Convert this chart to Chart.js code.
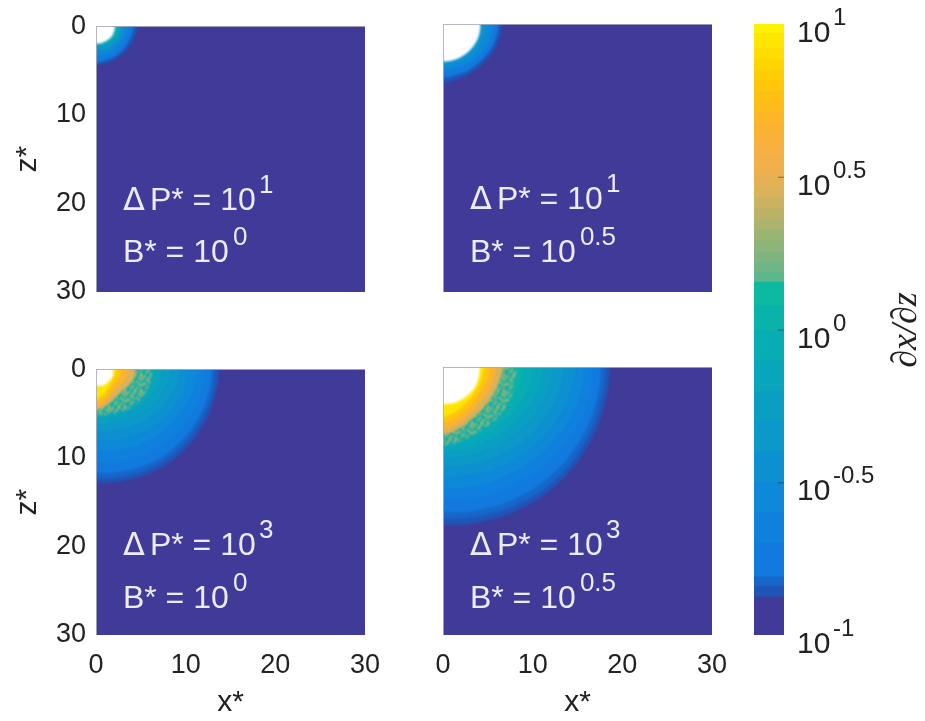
<!DOCTYPE html>
<html>
<head>
<meta charset="utf-8">
<script src="https://cdn.jsdelivr.net/npm/chart.js@4"></script>
<style>
    body { margin: 0; background: #fff; }
    canvas { position: absolute; }
</style>
</head>
<body>
<canvas id="panelA" width="400" height="340" style="left:0;top:0"></canvas>
<canvas id="panelB" width="400" height="340" style="left:347px;top:0"></canvas>
<canvas id="panelC" width="400" height="378" style="left:0;top:343px"></canvas>
<canvas id="panelD" width="400" height="378" style="left:347px;top:343px"></canvas>
<canvas id="colorbar" width="225" height="721" style="left:700px;top:0"></canvas>
<script>
// Axis ticks
const axisTicks = [0, 10, 20, 30];
const colorbarTickExps = [-1, -0.5, 0, 0.5, 1];
const colorbarTickSups = ['-1', '-0.5', '0', '0.5', '1'];

// Colour bands of the colorbar, lower edge of each band as exponent of 10
const bandEdges = [-1, -0.875, -0.84, -0.81, -0.7, -0.6, -0.5, -0.4, -0.3, -0.2, -0.1, 0, 0.08,
    0.155, 0.19, 0.22, 0.255, 0.29, 0.325, 0.36, 0.395, 0.43, 0.465, 0.5, 0.535, 0.57, 0.605, 0.64,
    0.675, 0.71, 0.745, 0.78, 0.815, 0.85, 0.885, 0.92, 0.97];
const bandColors = ['#403a98', '#1f55b7', '#1766c9', '#127adf', '#0f80dd', '#0e88d8', '#0d90d0', '#0c98c8',
    '#0a9fc2', '#08a6bb', '#08adb3', '#0ab3aa', '#0eb9a2',
    '#5db68c', '#6eb686', '#7eb57f', '#8cb579', '#9ab474', '#abb36d', '#bbb266', '#cab260', '#d9b25a',
    '#e4b154', '#eeb04e', '#f2b048', '#f6b043', '#f9b13a', '#fbb231', '#fcb626', '#fdbb1c', '#fec013',
    '#ffc60a', '#ffcd05', '#ffd500', '#ffdd00', '#ffe600', '#fff200'];

// Contour radii in x* units, read along these directions (degrees from the x* axis towards z*)
const contourAngles = [0, 15, 30, 45, 60, 75, 90];

const panelALevels = [-0.875, -0.81, -0.6, -0.4, -0.1];
const panelARadii = [
    [4.6, 4.5, 4.4, 4.3, 4.3, 4.3, 4.4],
    [4.2, 4.1, 4.0, 4.0, 4.0, 4.0, 4.1],
    [3.6, 3.5, 3.4, 3.4, 3.4, 3.4, 3.4],
    [3.1, 3.0, 3.0, 2.9, 2.9, 2.8, 2.7],
    [2.7, 2.6, 2.55, 2.4, 2.3, 2.2, 2.1]
];
const panelAHole = [2.1, 2.1, 2.1, 2.05, 2.0, 2.0, 1.95];

const panelBLevels = [-0.875, -0.81, -0.6, -0.5];
const panelBRadii = [
    [6.6, 6.5, 6.4, 6.3, 6.3, 6.4, 6.6],
    [6.2, 6.1, 6.0, 5.9, 5.9, 5.9, 6.0],
    [5.6, 5.5, 5.4, 5.3, 5.2, 5.1, 5.2],
    [5.0, 4.9, 4.8, 4.8, 4.7, 4.6, 4.6]
];
const panelBHole = [4.15, 4.2, 4.2, 4.2, 4.2, 4.2, 4.2];

const panelCLevels = [-0.875, -0.84, -0.81, -0.7, -0.6, -0.5, -0.4, -0.3, -0.2, -0.1, 0, 0.43, 0.64, 0.78, 0.92];
const panelCRadii = [
    [13.7, 13.6, 13.5, 13.4, 13.2, 13.0, 12.8],
    [13.3, 13.2, 13.0, 12.9, 12.7, 12.5, 12.3],
    [12.9, 12.8, 12.6, 12.4, 12.2, 11.9, 11.7],
    [12.2, 12.0, 11.7, 11.4, 11.1, 10.8, 10.5],
    [11.3, 11.0, 10.6, 10.2, 9.8, 9.5, 9.2],
    [10.3, 10.0, 9.6, 9.1, 8.6, 8.3, 8.0],
    [9.3, 9.0, 8.5, 8.0, 7.5, 7.1, 6.9],
    [8.3, 8.0, 7.5, 7.0, 6.5, 6.3, 6.1],
    [7.3, 7.0, 6.6, 6.2, 5.8, 5.6, 5.5],
    [6.4, 6.2, 5.9, 5.6, 5.3, 5.2, 5.1],
    [5.7, 5.5, 5.3, 5.1, 4.9, 4.9, 4.9],
    [4.4, 4.3, 4.0, 3.8, 3.9, 4.3, 4.6],
    [3.6, 3.5, 3.3, 3.2, 3.4, 3.9, 4.3],
    [2.9, 2.8, 2.7, 2.7, 3.0, 3.4, 3.7],
    [2.3, 2.2, 2.2, 2.3, 2.6, 3.0, 3.3]
];
const panelCHole = [1.9, 2.0, 2.0, 2.0, 2.0, 1.95, 1.85];
const panelCSpeckle = [6.2, 6.2, 6.1, 5.9, 5.5, 5.3, 5.3];

const panelDLevels = [-0.875, -0.84, -0.81, -0.7, -0.6, -0.5, -0.4, -0.3, -0.2, -0.1, 0, 0.43, 0.64, 0.78, 0.92];
const panelDRadii = [
    [18.6, 18.5, 18.4, 18.3, 18.1, 17.9, 17.7],
    [18.1, 18.0, 17.9, 17.8, 17.5, 17.2, 17.0],
    [17.6, 17.5, 17.3, 17.1, 16.8, 16.5, 16.2],
    [16.8, 16.6, 16.2, 15.8, 15.4, 15.1, 14.8],
    [15.8, 15.5, 15.0, 14.5, 14.1, 13.8, 13.6],
    [14.7, 14.3, 13.8, 13.3, 12.9, 12.5, 12.3],
    [13.5, 13.1, 12.6, 12.1, 11.6, 11.3, 11.1],
    [12.3, 11.9, 11.4, 10.9, 10.5, 10.3, 10.2],
    [11.1, 10.8, 10.3, 9.9, 9.6, 9.5, 9.4],
    [10.0, 9.7, 9.3, 9.0, 8.8, 8.8, 8.8],
    [8.9, 8.7, 8.4, 8.2, 8.1, 8.2, 8.4],
    [6.7, 6.5, 6.4, 6.4, 6.6, 7.1, 7.6],
    [5.9, 5.8, 5.7, 5.7, 6.0, 6.5, 7.0],
    [5.2, 5.1, 5.0, 5.1, 5.4, 5.8, 6.3],
    [4.6, 4.5, 4.5, 4.6, 4.8, 5.2, 5.6]
];
const panelDHole = [4.1, 4.15, 4.2, 4.2, 4.2, 4.2, 4.15];
const panelDSpeckle = [8.2, 8.2, 8.3, 8.3, 8.2, 8.4, 8.8];

// Mottled fill for the orange-to-teal transition
const speckleRows = ['10010010', '00100101', '01000010', '00101000', '10000101', '00100010', '01001000', '00010010'];

const FONT = '"Liberation Sans", Arial, sans-serif';
const TEXT_COLOR = '#222222';

function bandColor(level) {
    return bandColors[bandEdges.indexOf(level)];
}

function specklePattern() {
    const c = document.createElement('canvas');
    c.width = 16;
    c.height = 16;
    const g = c.getContext('2d');
    g.fillStyle = '#dbb25c';
    speckleRows.forEach((row, y) => {
        row.split('').forEach((on, x) => {
            if (on === '1') g.fillRect(x * 2, y * 2, 2, 2);
        });
    });
    return g.createPattern(c, 'repeat');
}

// Closed shape: the arc of radii, carried past both axes and round a corner outside the plot.
// The chart area clips the part outside.
function contourDataset(radii, color) {
    const points = [{ x: -5, y: -5 }];
    const last = radii.length - 1;
    const step = contourAngles[1] - contourAngles[0];
    const pushPoint = (r, deg) => {
        const a = deg * Math.PI / 180;
        points.push({ x: r * Math.cos(a), y: r * Math.sin(a) });
    };
    pushPoint(radii[0], contourAngles[0] - step);
    radii.forEach((r, i) => pushPoint(r, contourAngles[i]));
    pushPoint(radii[last], contourAngles[last] + step);
    return {
        data: points,
        showLine: true,
        fill: 'shape',
        tension: 0.4,
        backgroundColor: color,
        borderColor: 'rgba(0,0,0,0)',
        borderWidth: 0,
        pointRadius: 0
    };
}

// Plot background (everything under the lowest band), soft edges for the contours, white text labels
const panelPlugin = {
    id: 'panelPlugin',
    beforeDatasetsDraw(chart) {
        const { ctx, chartArea: a } = chart;
        ctx.fillStyle = bandColors[0];
        ctx.fillRect(a.left, a.top, a.right - a.left, a.bottom - a.top);
        ctx.filter = 'blur(1.3px)';
    },
    afterDatasetsDraw(chart) {
        chart.ctx.filter = 'none';
    },
    afterDraw(chart, args, opts) {
        const { ctx, scales } = chart;
        const x = scales.x.getPixelForValue(3);
        const y1 = scales.y.getPixelForValue(opts.z1);
        const y2 = scales.y.getPixelForValue(opts.z2);
        ctx.save();
        ctx.fillStyle = '#ecebf5';
        ctx.textBaseline = 'alphabetic';
        ctx.textAlign = 'left';
        ctx.font = `32px "DejaVu Sans"`;
        ctx.fillText('\u0394', x, y1);
        ctx.font = `32px ${FONT}`;
        ctx.fillText('P* = 10', x + 27, y1);
        ctx.fillText('B* = 10', x, y2);
        ctx.font = `26px ${FONT}`;
        ctx.fillText(opts.dpSup, x + 136, y1 - 17);
        ctx.fillText(opts.bSup, x + 110, y2 - 17);
        ctx.restore();
    }
};

function edgeGrid(context) {
    return context.tick && context.tick.value === 0 ? 'rgba(170,170,185,0.85)' : 'rgba(0,0,0,0)';
}

function makePanel(id, levels, radii, hole, speckle, o) {
    const datasets = [contourDataset(hole, '#ffffff')];
    // first dataset is painted last, so innermost contours go first
    for (let i = levels.length - 1; i >= 0; i--) {
        datasets.push(contourDataset(radii[i], bandColor(levels[i])));
        if (speckle && levels[i] === 0.43) {
            datasets.push(contourDataset(speckle, specklePattern()));
        }
    }
    new Chart(document.getElementById(id), {
        type: 'scatter',
        data: { datasets: datasets },
        plugins: [panelPlugin],
        options: {
            responsive: false,
            animation: false,
            elements: { line: { capBezierPoints: false } },
            layout: { padding: { left: 0, right: 35, top: 24, bottom: 0 } },
            scales: {
                x: {
                    type: 'linear',
                    min: 0,
                    max: 30,
                    afterFit: (scale) => { scale.height = o.axisHeight; },
                    afterBuildTicks: (scale) => { scale.ticks = axisTicks.map(v => ({ value: v })); },
                    grid: { color: edgeGrid, drawTicks: false, z: 1 },
                    border: { display: false },
                    ticks: {
                        display: o.xLabels,
                        padding: 14,
                        maxRotation: 0,
                        autoSkip: false,
                        color: TEXT_COLOR,
                        font: { family: FONT, size: 27 }
                    },
                    title: {
                        display: o.xLabels,
                        text: 'x*',
                        color: TEXT_COLOR,
                        font: { family: FONT, size: 30 },
                        padding: 0
                    }
                },
                y: {
                    type: 'linear',
                    reverse: true,
                    min: 0,
                    max: 30,
                    afterFit: (scale) => { scale.width = 96; },
                    afterBuildTicks: (scale) => { scale.ticks = axisTicks.map(v => ({ value: v })); },
                    grid: { color: edgeGrid, drawTicks: false, z: 1 },
                    border: { display: false },
                    ticks: {
                        display: o.yLabels,
                        padding: 10,
                        autoSkip: false,
                        color: TEXT_COLOR,
                        font: { family: FONT, size: 27 }
                    },
                    title: {
                        display: o.yLabels,
                        text: 'z*',
                        color: TEXT_COLOR,
                        font: { family: FONT, size: 30 },
                        padding: { top: 10, bottom: 0 }
                    }
                }
            },
            plugins: {
                legend: { display: false },
                tooltip: { enabled: false },
                panelPlugin: { z1: o.z1, z2: o.z2, dpSup: o.dpSup, bSup: o.bSup }
            }
        }
    });
}

// Colorbar tick labels have superscripts, so they are written here at the scale's positions
const colorbarPlugin = {
    id: 'colorbarPlugin',
    afterDraw(chart) {
        const { ctx, scales, chartArea: a } = chart;
        ctx.save();
        ctx.textBaseline = 'alphabetic';
        ctx.textAlign = 'left';
        ctx.fillStyle = TEXT_COLOR;
        colorbarTickExps.forEach((e, i) => {
            const y = scales.y.getPixelForValue(Math.pow(10, e));
            ctx.font = `30px ${FONT}`;
            ctx.fillText('10', a.right + 13, y + 18);
            ctx.font = `24px ${FONT}`;
            ctx.fillText(colorbarTickSups[i], a.right + 49, y + 1);
            if (i > 0 && i < colorbarTickExps.length - 1) {
                ctx.strokeStyle = 'rgba(50,50,50,0.6)';
                ctx.beginPath();
                ctx.moveTo(a.right - 6, y + 0.5);
                ctx.lineTo(a.right, y + 0.5);
                ctx.stroke();
            }
        });
        // axis title
        ctx.translate(216, 330);
        ctx.rotate(-Math.PI / 2);
        ctx.textAlign = 'center';
        ctx.font = `italic 36px "Liberation Serif", serif`;
        ctx.fillText('\u2202x/\u2202z', 0, 0);
        ctx.restore();
    }
};

function makeColorbar() {
    const datasets = bandEdges.map((edge, i) => {
        const top = i < bandEdges.length - 1 ? bandEdges[i + 1] : 1;
        return {
            data: [[Math.pow(10, edge), Math.pow(10, top)]],
            backgroundColor: bandColors[i],
            borderWidth: 0,
            barPercentage: 1,
            categoryPercentage: 1
        };
    });
    new Chart(document.getElementById('colorbar'), {
        type: 'bar',
        data: { labels: ['dxdz'], datasets: datasets },
        plugins: [colorbarPlugin],
        options: {
            responsive: false,
            animation: false,
            layout: { padding: { left: 54, right: 0, top: 24, bottom: 86 } },
            scales: {
                x: { stacked: true, display: false },
                y: {
                    type: 'logarithmic',
                    position: 'right',
                    min: 0.1,
                    max: 10,
                    afterFit: (scale) => { scale.width = 141; },
                    grid: { display: false },
                    border: { display: false },
                    ticks: { display: false }
                }
            },
            plugins: {
                legend: { display: false },
                tooltip: { enabled: false }
            }
        }
    });
}

makePanel('panelA', panelALevels, panelARadii, panelAHole, null,
    { axisHeight: 48, xLabels: false, yLabels: true, z1: 20.7, z2: 26.6, dpSup: '1', bSup: '0' });
makePanel('panelB', panelBLevels, panelBRadii, panelBHole, null,
    { axisHeight: 48, xLabels: false, yLabels: false, z1: 20.7, z2: 26.6, dpSup: '1', bSup: '0.5' });
makePanel('panelC', panelCLevels, panelCRadii, panelCHole, panelCSpeckle,
    { axisHeight: 86, xLabels: true, yLabels: true, z1: 21, z2: 27, dpSup: '3', bSup: '0' });
makePanel('panelD', panelDLevels, panelDRadii, panelDHole, panelDSpeckle,
    { axisHeight: 86, xLabels: true, yLabels: false, z1: 21, z2: 27, dpSup: '3', bSup: '0.5' });
makeColorbar();
</script>
</body>
</html>
